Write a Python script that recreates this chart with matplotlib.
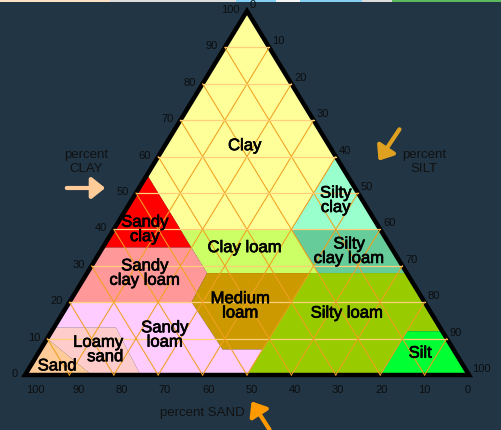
import matplotlib.pyplot as plt
import matplotlib.patheffects as pe
from matplotlib.patches import Polygon, FancyArrowPatch, Rectangle

# soil texture classes, vertices as (sand, silt, clay) percent
class_names = ['Clay', 'Sandy\nclay', 'Silty\nclay', 'Clay loam', 'Sandy\nclay loam',
               'Silty\nclay loam', 'Medium\nloam', 'Silty loam', 'Silt',
               'Sandy\nloam', 'Loamy\nsand', 'Sand']
class_colors = ['#ffff99', '#ff0000', '#99ffcc', '#ccff66', '#ff9999',
                '#66cc99', '#cc9900', '#99cc00', '#00ff33',
                '#ffccff', '#ffcccc', '#ffcc99']
class_polys = [
    [(0, 0, 100), (0, 40, 60), (20, 40, 40), (45, 15, 40), (45, 0, 55)],
    [(45, 0, 55), (45, 20, 35), (65, 0, 35)],
    [(0, 40, 60), (0, 60, 40), (20, 40, 40)],
    [(45, 15, 40), (20, 40, 40), (20, 52, 28), (45, 27, 28)],
    [(65, 0, 35), (45, 20, 35), (45, 27, 28), (52.5, 27.5, 20), (80, 0, 20)],
    [(0, 60, 40), (20, 40, 40), (20, 52, 28), (0, 72, 28)],
    [(45, 27, 28), (22, 50, 28), (43, 50, 7), (52, 41, 7), (52.5, 27.5, 20)],
    [(22, 50, 28), (0, 72, 28), (0, 88, 12), (8, 80, 12), (20, 80, 0),
     (50, 50, 0), (43, 50, 7)],
    [(0, 88, 12), (0, 100, 0), (20, 80, 0), (8, 80, 12)],
    [(80, 0, 20), (52.5, 27.5, 20), (52, 41, 7), (43, 50, 7), (50, 50, 0),
     (74, 26, 0), (73, 14, 13), (87, 0, 13)],
    [(90, 0, 10), (87, 0, 13), (73, 14, 13), (74, 26, 0), (85, 15, 0)],
    [(100, 0, 0), (90, 0, 10), (85, 15, 0)],
]
# label anchor of each class, (sand, silt, clay)
label_pos = [(19, 18, 63), (53, 7, 40), (6, 46, 48), (33, 32, 35), (59, 13, 28),
             (10, 56, 34), (42, 39, 19), (19, 64, 17), (8, 86, 6),
             (63, 26, 11), (80, 13, 7), (91, 6, 2.5)]
tick_values = [0, 10, 20, 30, 40, 50, 60, 70, 80, 90, 100]

X0, Y0, W, H = 25, 376, 444, 364


def tern(sand, silt, clay):
    x = X0 + W * (silt + clay / 2) / 100
    y = Y0 - H * clay / 100
    return x, y


fig = plt.figure(figsize=(5.02, 4.31), dpi=100)
fig.patch.set_facecolor('#213545')
ax = fig.add_axes([0, 0, 1, 1])
ax.set_xlim(0, 502)
ax.set_ylim(431, 0)
ax.axis('off')

# thin strip of another picture at the top
for x0, x1, c in [(0, 110, '#ffe2c4'), (110, 236, '#dcdcdc'), (236, 276, '#86d0f5'),
                  (276, 300, '#f4f4f4'), (300, 362, '#86d0f5'), (362, 392, '#dcdcdc'),
                  (392, 502, '#5cb85c')]:
    ax.add_patch(Rectangle((x0, 0), x1 - x0, 3, color=c, lw=0))

for name, col, poly in zip(class_names, class_colors, class_polys):
    ax.add_patch(Polygon([tern(*p) for p in poly], closed=True, fc=col, ec='none'))

# grid
for v in range(10, 100, 10):
    ax.plot(*zip(tern(100 - v, 0, v), tern(0, 100 - v, v)), color='#ffcf7a', lw=0.9)
    ax.plot(*zip(tern(100 - v, v, 0), tern(0, v, 100 - v)), color='#f0a020', lw=0.75)
    ax.plot(*zip(tern(v, 100 - v, 0), tern(v, 0, 100 - v)), color='#f0a020', lw=0.75)

# outline
tri = [tern(100, 0, 0), tern(0, 100, 0), tern(0, 0, 100)]
ax.add_patch(Polygon(tri, closed=True, fill=False, ec='black', lw=3.2, joinstyle='miter'))

for name, pos in zip(class_names, label_pos):
    x, y = tern(*pos)
    ax.text(x, y, name, ha='center', va='center', fontsize=12,
            family='Liberation Sans', color='black', linespacing=0.95,
            multialignment='right' if name == 'Loamy\nsand' else 'center',
            path_effects=[pe.withStroke(linewidth=0.5, foreground='black')])

tick_kw = dict(fontsize=8, family='Liberation Sans', color='#0d0d0d')
for v in tick_values:
    x, y = tern(100 - v, 0, v)
    ax.text(x - 7, y - 2, str(v), ha='right', va='center', **tick_kw)
    x, y = tern(0, v, 100 - v)
    ax.text(x + 3, y - 7, str(v), ha='left', va='center', **tick_kw)
    x, y = tern(v, 100 - v, 0)
    ax.text(x + 11 * v / 100 - 1, 390, str(v), ha='center', va='center', **tick_kw)

title_kw = dict(fontsize=9.5, family='Liberation Sans', color='#111111',
                ha='center', va='center', linespacing=1.3)
ax.text(86, 162, 'percent\nCLAY', **title_kw)
ax.text(424, 162, 'percent\nSILT', **title_kw)
ax.text(202, 413, 'percent SAND', **title_kw)

arrows = [((64, 189), (108, 189), '#ffcc99'),
          ((401, 128), (377, 164), '#e0a020'),
          ((271, 433), (250, 400), '#ff9900')]
for (x0, y0), (x1, y1), c in arrows:
    ax.add_patch(FancyArrowPatch((x0, y0), (x1, y1), arrowstyle='-|>,head_length=5,head_width=4',
                                 color=c, lw=3, mutation_scale=1.6))

fig.savefig('out.png', dpi=100, facecolor=fig.get_facecolor())
